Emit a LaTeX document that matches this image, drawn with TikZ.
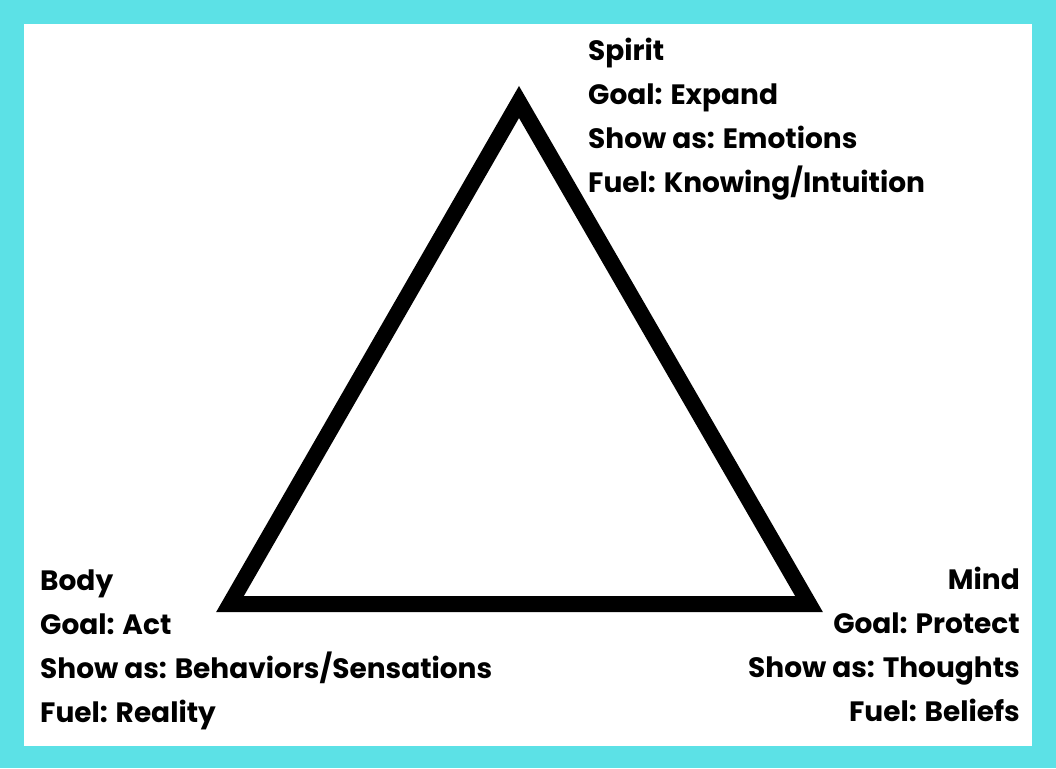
\documentclass[tikz,border=0pt]{standalone}
\usepackage{fontspec}
\setmainfont{Poppins}
\usetikzlibrary{positioning}
\definecolor{frameblue}{HTML}{5CE1E6}

\begin{document}
\begin{tikzpicture}[x=1pt,y=-1pt,font=\bfseries\fontsize{28}{44}\selectfont]
\useasboundingbox (0,0) rectangle (1056,768);
\fill[frameblue] (0,0) rectangle (1056,768);
\fill[white] (24,24) rectangle (1032,746);
% corners of the triangle
\coordinate (spirit) at (519,102);
\coordinate (body) at (230,604);
\coordinate (mind) at (809,604);
\draw[line width=16pt,line join=miter] (spirit) -- (body) -- (mind) -- cycle;
\node[align=left,inner sep=0pt,anchor=base west] (spirittxt) at (588,192) {Spirit\\Goal: Expand\\Show as: Emotions\\Fuel: Knowing/Intuition};
\node[align=left,inner sep=0pt,anchor=base west] (bodytxt) at (40,722) {Body\\Goal: Act\\Show as: Behaviors/Sensations\\Fuel: Reality};
\node[align=right,inner sep=0pt,anchor=base east] (mindtxt) at (1020,721) {Mind\\Goal: Protect\\Show as: Thoughts\\Fuel: Beliefs};
\end{tikzpicture}
\end{document}
